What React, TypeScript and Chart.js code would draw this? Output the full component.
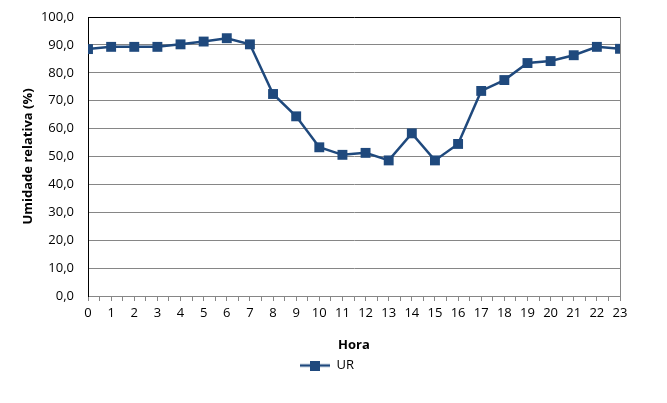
import React, { useEffect, useRef } from "react";
import { Chart, registerables } from "chart.js";

Chart.register(...registerables);

const hours: number[] = [0, 1, 2, 3, 4, 5, 6, 7, 8, 9, 10, 11, 12, 13, 14, 15, 16, 17, 18, 19, 20, 21, 22, 23];
const urValues: number[] = [88.5, 89.3, 89.3, 89.3, 90.2, 91.2, 92.4, 90.2, 72.4, 64.4, 53.3, 50.6, 51.3, 48.6, 58.3, 48.6, 54.5, 73.5, 77.4, 83.5, 84.2, 86.3, 89.3, 88.6];
const seriesLabel = "UR";
const xTitle = "Hora";
const yTitle = "Umidade relativa (%)";

const COLOR = "#1F497D";
const FONT = "'Open Sans', 'Noto Sans', sans-serif";

function makeLegendIcon(): HTMLCanvasElement {
  const c = document.createElement("canvas");
  c.width = 30;
  c.height = 10;
  const ctx = c.getContext("2d")!;
  ctx.strokeStyle = COLOR;
  ctx.lineWidth = 2.5;
  ctx.beginPath();
  ctx.moveTo(0, 5);
  ctx.lineTo(30, 5);
  ctx.stroke();
  ctx.fillStyle = COLOR;
  ctx.fillRect(10, 0, 10, 10);
  return c;
}

export default function App() {
  const ref = useRef<HTMLCanvasElement | null>(null);

  useEffect(() => {
    document.body.style.margin = "0";
    const icon = makeLegendIcon();
    const chart = new Chart(ref.current!, {
      type: "line",
      data: {
        datasets: [
          {
            label: seriesLabel,
            data: hours.map((h, i) => ({ x: h, y: urValues[i] })),
            borderColor: COLOR,
            backgroundColor: COLOR,
            borderWidth: 2.5,
            pointStyle: "rect",
            pointRadius: 7,
            pointHoverRadius: 7,
            pointBorderWidth: 0,
            tension: 0,
          },
        ],
      },
      options: {
        animation: false,
        responsive: false,
        maintainAspectRatio: false,
        layout: { padding: { top: 17, right: 13, left: 0, bottom: 21 } },
        plugins: {
          tooltip: { enabled: false },
          legend: {
            position: "bottom",
            labels: {
              usePointStyle: true,
              pointStyleWidth: 30,
              color: "#000",
              font: { family: FONT, size: 13 },
              padding: 6,
              generateLabels: (ch) => {
                const items = Chart.defaults.plugins.legend.labels.generateLabels(ch);
                return items.map((it) => ({ ...it, pointStyle: icon as any }));
              },
            },
          },
        },
        scales: {
          x: {
            type: "linear",
            min: 0,
            max: 23,
            afterBuildTicks: (scale: any) => {
              const t: any[] = [];
              for (let v = 0; v <= 23; v += 0.5) t.push({ value: v });
              scale.ticks = t;
            },
            ticks: {
              autoSkip: false,
              maxRotation: 0,
              color: "#000",
              font: { family: FONT, size: 13 },
              padding: 4,
              callback: (v: any) => (Number.isInteger(Number(v)) ? String(v) : ""),
            },
            grid: {
              display: true,
              drawOnChartArea: false,
              drawTicks: true,
              tickLength: 5,
              color: "#868686",
            },
            border: { color: "#868686", width: 1 },
            title: {
              display: true,
              text: xTitle,
              color: "#000",
              font: { family: FONT, size: 13, weight: "bold" },
              padding: { top: 10, bottom: 0 },
            },
            afterFit: (scale: any) => {
              scale.height = 57;
              scale.paddingLeft = 0;
              scale.paddingRight = 0;
            },
          },
          y: {
            min: 0,
            max: 100,
            ticks: {
              stepSize: 10,
              color: "#000",
              font: { family: FONT, size: 13 },
              padding: 14,
              callback: (v: any) => Number(v).toFixed(1).replace(".", ","),
            },
            grid: {
              drawTicks: false,
              color: (ctx: any) => (ctx.tick && ctx.tick.value === 100 ? "#000" : "#868686"),
              lineWidth: 1,
            },
            border: { color: "#000", width: 1 },
            title: {
              display: true,
              text: yTitle,
              color: "#000",
              font: { family: FONT, size: 13, weight: "bold" },
              padding: { top: 20, bottom: 0 },
            },
            afterFit: (scale: any) => {
              scale.width = 88;
              scale.paddingTop = 0;
              scale.paddingBottom = 0;
            },
          },
          y2: {
            position: "right",
            min: 0,
            max: 100,
            ticks: { display: false },
            grid: { display: false },
            border: { color: "#868686", width: 1 },
            afterFit: (scale: any) => {
              scale.width = 34;
              scale.paddingTop = 0;
              scale.paddingBottom = 0;
            },
          },
        },
      },
    });
    return () => chart.destroy();
  }, []);

  return (
    <div style={{ width: 667, height: 403 }}>
      <canvas ref={ref} width={667} height={403} style={{ width: 667, height: 403, display: "block" }} />
    </div>
  );
}
